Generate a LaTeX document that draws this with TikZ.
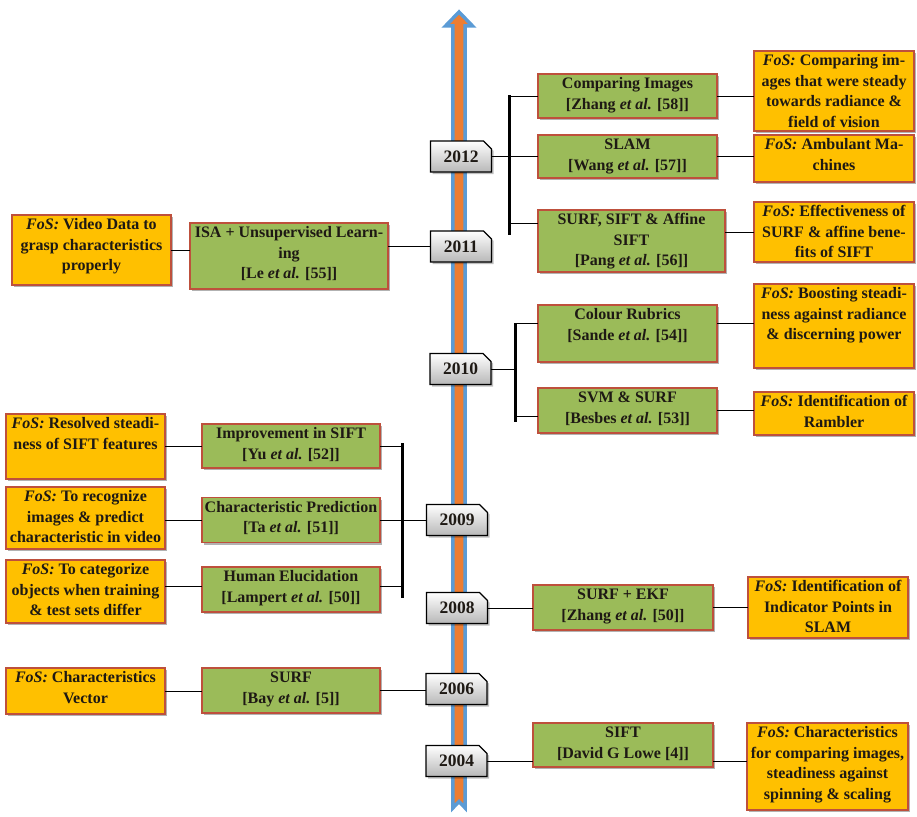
\documentclass[tikz,border=0pt]{standalone}
\usepackage{fontspec}
\setmainfont{Liberation Serif}
\usetikzlibrary{shadows}
\definecolor{gfill}{RGB}{155,187,89}
\definecolor{ofill}{RGB}{255,192,0}
\definecolor{bord}{RGB}{190,80,60}
\definecolor{ablue}{RGB}{91,155,213}
\definecolor{aorange}{RGB}{237,125,49}
\definecolor{txt}{RGB}{30,25,20}
\newcommand{\rf}[2]{[#1 \textit{et al.} [#2]]}
\newcommand{\fos}{\textit{FoS:} }
\newcommand{\card}[7]{\node[#1, minimum width=#5pt, minimum height=#6pt] (#2) at (#3,#4) {\parbox[c][#6pt][t]{#5pt}{\centering\rule{0pt}{14.5pt}#7}};}
\newcommand{\yr}[4]{%
  \fill[black, opacity=0.25] (#2-28.5,#3-13.5) -- (#2+24.5,#3-13.5) -- (#2+32.5,#3-5.5) -- (#2+32.5,#3+17.5) -- (#2-28.5,#3+17.5) -- cycle;
  \draw[yearshape] (#2-30.5,#3-15.5) -- (#2+22.5,#3-15.5) -- (#2+30.5,#3-7.5) -- (#2+30.5,#3+15.5) -- (#2-30.5,#3+15.5) -- cycle;
  \node[yeartext] (#1) at (#2,#3) {#4};}
\tikzset{
  cardbase/.style={draw=bord, line width=1.3pt, inner sep=0pt, outer sep=0pt, text=txt,
    font=\fontsize{16}{20.5}\selectfont\bfseries,
    drop shadow={shadow xshift=1.5pt, shadow yshift=-2pt, opacity=0.3, fill=black}},
  gcard/.style={cardbase, fill=gfill},
  ocard/.style={cardbase, fill=ofill},
  yeartext/.style={inner sep=0pt, minimum width=61pt, minimum height=31pt, text=txt,
    font=\fontsize{17.5}{18}\selectfont\bfseries},
  yearshape/.style={draw=black, line width=1.1pt, top color=white, bottom color=black!28},
  conn/.style={line width=1pt, draw=black},
  bracket/.style={line width=3pt, draw=black},
}
\begin{document}
\begin{tikzpicture}[x=1pt,y=-1pt]
\useasboundingbox (0,0) rectangle (917,816);
% timeline arrow
\draw[line width=3.5pt, draw=ablue, fill=aorange, line join=miter]
  (459,12) -- (472.5,26) -- (465.2,26) -- (465.2,808) -- (459,801.5) -- (452.8,808) -- (452.8,26) -- (445.5,26) -- cycle;
% years
\yr{y12}{461}{156.5}{2012}
\yr{y11}{461}{246.5}{2011}
\yr{y10}{460.5}{369}{2010}
\yr{y09}{457}{520}{2009}
\yr{y08}{457}{608}{2008}
\yr{y06}{456.5}{689}{2006}
\yr{y04}{456.5}{761}{2004}
% green cards
\card{gcard}{g58}{627.5}{96}{179}{44}{Comparing Images\\\rf{Zhang}{58}}
\card{gcard}{g57}{627.5}{156.5}{179}{43}{SLAM\\\rf{Wang}{57}}
\card{gcard}{g56}{631.5}{241}{187}{62}{SURF, SIFT \& Affine\\SIFT\\\rf{Pang}{56}}
\card{gcard}{g54}{627.5}{333.5}{179}{57}{Colour Rubrics\\\rf{Sande}{54}}
\card{gcard}{g53}{627.5}{410.5}{179}{45}{SVM \& SURF\\\rf{Besbes}{53}}
\card{gcard}{g50b}{623}{607.5}{180}{45}{SURF + EKF\\\rf{Zhang}{50}}
\card{gcard}{g4}{623}{745}{180}{44}{SIFT\\{[}David G Lowe [4]]}
\card{gcard}{g55}{289}{256}{198}{66}{ISA + Unsupervised Learn-\\ing\\\rf{Le}{55}}
\card{gcard}{g52}{291}{446}{178}{44}{Improvement in SIFT\\\rf{Yu}{52}}
\card{gcard}{g51}{291}{520}{178}{45}{Characteristic Prediction\\\rf{Ta}{51}}
\card{gcard}{g50}{291}{589.5}{178}{45}{Human Elucidation\\\rf{Lampert}{50}}
\card{gcard}{g5}{291}{690.5}{178}{45}{SURF\\\rf{Bay}{5}}
% orange cards
\card{ocard}{o58}{834}{91}{160}{80}{\fos Comparing im-\\ages that were steady\\towards radiance \&\\field of vision}
\card{ocard}{o57}{834}{158.5}{160}{47}{\fos Ambulant Ma-\\chines}
\card{ocard}{o56}{834}{232}{160}{60}{\fos Effectiveness of\\SURF \& affine bene-\\fits of SIFT}
\card{ocard}{o54}{834}{326}{160}{84}{\fos Boosting steadi-\\ness against radiance\\\& discerning power}
\card{ocard}{o53}{834}{413.5}{160}{43}{\fos Identification of\\Rambler}
\card{ocard}{o50b}{828}{607.5}{160}{61}{\fos Identification of\\Indicator Points in\\SLAM}
\card{ocard}{o4}{827.5}{766.5}{161}{87}{\fos Characteristics\\for comparing images,\\steadiness against\\spinning \& scaling}
\card{ocard}{o55}{91.5}{250}{159}{70}{\fos Video Data to\\grasp characteristics\\properly}
\card{ocard}{o52}{85.5}{446.5}{159}{65}{\fos Resolved steadi-\\ness of SIFT features}
\card{ocard}{o51}{85.5}{518}{159}{62}{\fos To recognize\\images \& predict\\characteristic in video}
\card{ocard}{o50}{85.5}{591.5}{159}{63}{\fos To categorize\\objects when training\\\& test sets differ}
\card{ocard}{o5}{85.5}{691}{159}{46}{\fos Characteristics\\Vector}
% 2012 bracket
\coordinate (k12t) at (509,95);
\coordinate (k12b) at (509,235);
\coordinate (k12c) at (509,223);
\draw[bracket] (k12t) -- (k12b);
\draw[conn] (y12.east) -- (y12.east -| k12t);
\draw[conn] (g58.west -| k12t) -- (g58.west);
\draw[conn] (g57.west -| k12t) -- (g57.west);
\draw[conn] (k12c) -- (k12c -| g56.west);
\draw[conn] (g58.east) -- (g58.east -| o58.west);
\draw[conn] (g57.east) -- (g57.east -| o57.west);
\draw[conn] (g56.east |- o56.west) -- (o56.west);
% 2011
\draw[conn] (o55.east) -- (o55.east -| g55.west);
\draw[conn] (g55.east |- y11.west) -- (y11.west);
% 2010 bracket
\coordinate (k10t) at (515,323);
\coordinate (k10b) at (515,422);
\coordinate (k10d) at (515,416);
\draw[bracket] (k10t) -- (k10b);
\draw[conn] (y10.east) -- (y10.east -| k10t);
\draw[conn] (k10t) -- (k10t -| g54.west);
\draw[conn] (k10d) -- (k10d -| g53.west);
\draw[conn] (k10t -| g54.east) -- (k10t -| o54.west);
\draw[conn] (g53.east) -- (g53.east -| o53.west);
% 2009 bracket
\coordinate (k09t) at (402,443);
\coordinate (k09b) at (402,598);
\coordinate (k09c) at (402,586);
\draw[bracket] (k09t) -- (k09b);
\draw[conn] (g52.east) -- (g52.east -| k09t);
\draw[conn] (g51.east) -- (g51.east -| y09.west);
\draw[conn] (k09c -| g50.east) -- (k09c);
\draw[conn] (o52.east |- g52.west) -- (g52.west);
\draw[conn] (o51.east |- g51.west) -- (g51.west);
\draw[conn] (k09c -| o50.east) -- (k09c -| g50.west);
% 2008
\draw[conn] (y08.east) -- (y08.east -| g50b.west);
\draw[conn] (g50b.east) -- (g50b.east -| o50b.west);
% 2006
\draw[conn] (g5.east) -- (g5.east -| y06.west);
\draw[conn] (o5.east) -- (o5.east -| g5.west);
% 2004
\draw[conn] (y04.east) -- (y04.east -| g4.west);
\draw[conn] (y04.east -| g4.east) -- (y04.east -| o4.west);
\end{tikzpicture}
\end{document}
